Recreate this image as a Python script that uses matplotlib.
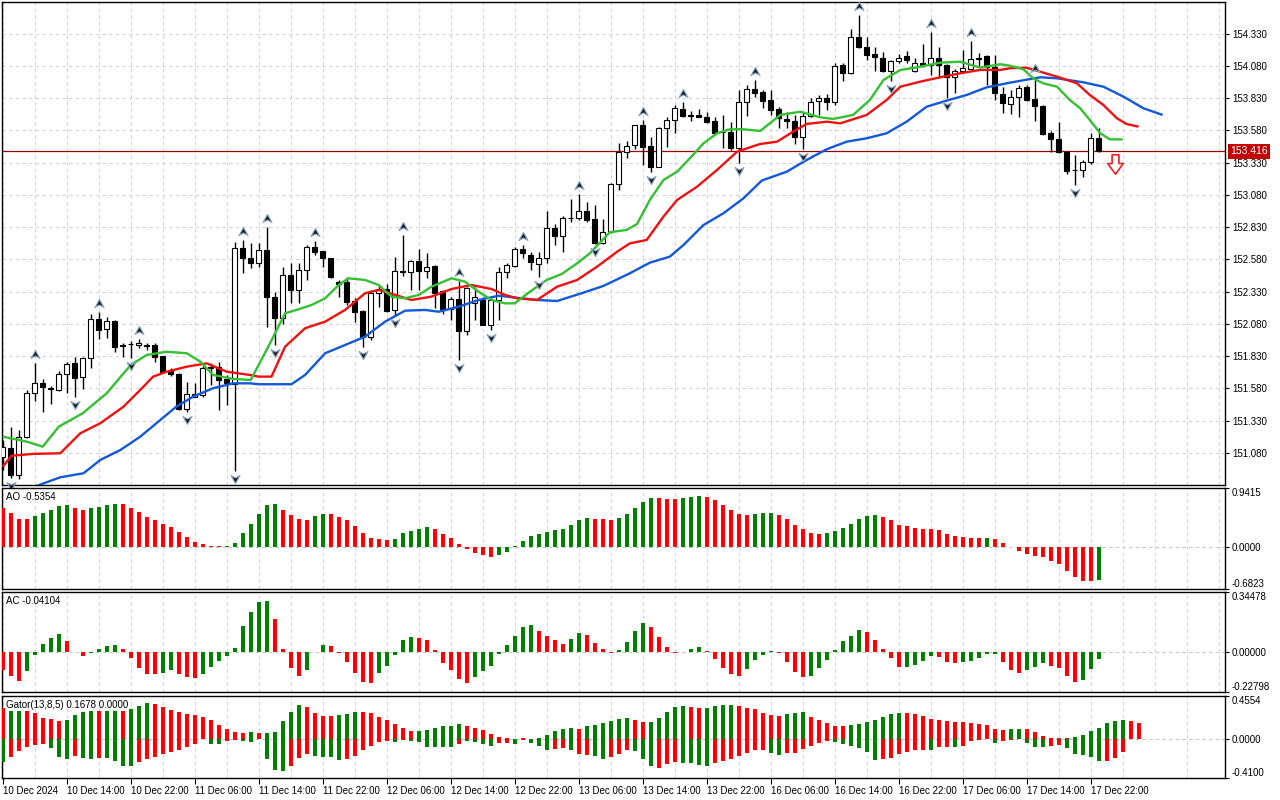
import matplotlib
matplotlib.use("Agg")
import matplotlib.pyplot as plt
import matplotlib.transforms as mtransforms
from matplotlib.path import Path
import numpy as np

plt.rcParams['font.family'] = ['Liberation Sans', 'DejaVu Sans']

# ---------------- data (hourly bars, 10 Dec 06:00 -> 17 Dec 23:00) ----------------
opens = [151.050, 151.120, 150.909, 151.206, 151.542, 151.619, 151.581, 151.568, 151.689, 151.774,
         151.666, 151.813, 152.115, 152.038, 152.102, 151.914, 151.924, 151.914, 151.906, 151.914,
         151.831, 151.723, 151.689, 151.423, 151.516, 151.529, 151.736, 151.743, 151.650, 151.614,
         152.666, 152.588, 152.549, 152.653, 152.291, 152.128, 152.459, 152.343, 152.498, 152.673,
         152.645, 152.593, 152.402, 152.405, 152.257, 152.182, 151.976, 152.317, 152.348, 152.188,
         152.490, 152.480, 152.567, 152.490, 152.529, 152.335, 152.193, 152.270, 152.025, 152.239,
         152.265, 152.071, 152.265, 152.480, 152.531, 152.660, 152.614, 152.542, 152.588, 152.821,
         152.763, 152.898, 152.898, 152.955, 152.890, 152.704, 152.790, 153.162, 153.412, 153.466,
         153.621, 153.456, 153.298, 153.596, 153.660, 153.745, 153.699, 153.699, 153.681, 153.652,
         153.569, 153.569, 153.445, 153.802, 153.898, 153.877, 153.815, 153.745, 153.665, 153.652,
         153.526, 153.693, 153.807, 153.828, 153.800, 154.086, 154.022, 154.301, 154.228, 154.172,
         154.138, 154.042, 154.117, 154.156, 154.040, 154.104, 154.086, 154.138, 154.086, 153.991,
         154.042, 154.053, 154.138, 154.156, 154.073, 153.862, 153.784, 153.836, 153.913, 153.820,
         153.771, 153.557, 153.513, 153.414, 153.273, 153.273, 153.337, 153.518]
highs = [151.180, 151.283, 151.258, 151.568, 151.779, 151.650, 151.601, 151.715, 151.787, 151.821,
         151.826, 152.154, 152.170, 152.131, 152.110, 151.934, 151.947, 151.960, 151.929, 151.929,
         151.831, 151.736, 151.702, 151.632, 151.624, 151.754, 151.779, 151.787, 151.684, 152.717,
         152.730, 152.704, 152.709, 152.833, 152.329, 152.523, 152.549, 152.549, 152.691, 152.725,
         152.645, 152.593, 152.420, 152.441, 152.278, 152.188, 152.343, 152.381, 152.389, 152.601,
         152.769, 152.575, 152.658, 152.632, 152.536, 152.343, 152.291, 152.412, 152.368, 152.368,
         152.291, 152.278, 152.523, 152.554, 152.678, 152.691, 152.639, 152.639, 152.957, 152.854,
         152.918, 153.045, 153.087, 153.027, 153.001, 152.890, 153.169, 153.484, 153.500, 153.621,
         153.660, 153.531, 153.608, 153.686, 153.776, 153.802, 153.732, 153.745, 153.724, 153.686,
         153.699, 153.647, 153.893, 153.931, 153.970, 153.893, 153.893, 153.763, 153.724, 153.699,
         153.712, 153.828, 153.854, 153.862, 154.099, 154.099, 154.363, 154.474, 154.306, 154.228,
         154.189, 154.125, 154.172, 154.197, 154.138, 154.249, 154.344, 154.228, 154.092, 154.053,
         154.203, 154.275, 154.177, 154.164, 154.164, 153.918, 153.893, 153.931, 153.931, 153.991,
         153.776, 153.577, 153.647, 153.420, 153.389, 153.350, 153.557, 153.596]
lows = [150.948, 150.883, 150.878, 151.193, 151.485, 151.399, 151.457, 151.562, 151.542, 151.516,
        151.573, 151.736, 151.960, 151.973, 151.864, 151.826, 151.813, 151.891, 151.878, 151.787,
        151.697, 151.678, 151.413, 151.399, 151.516, 151.516, 151.606, 151.413, 151.451, 150.940,
        152.472, 152.511, 152.523, 152.058, 151.916, 152.077, 152.239, 152.239, 152.420, 152.614,
        152.523, 152.433, 152.291, 152.226, 152.097, 151.903, 151.955, 152.213, 152.174, 152.149,
        152.451, 152.343, 152.343, 152.438, 152.201, 152.157, 152.110, 151.800, 151.994, 152.110,
        152.071, 152.033, 152.110, 152.433, 152.523, 152.593, 152.498, 152.446, 152.549, 152.691,
        152.639, 152.872, 152.885, 152.872, 152.699, 152.699, 152.782, 153.118, 153.368, 153.435,
        153.311, 153.259, 153.298, 153.453, 153.557, 153.686, 153.655, 153.681, 153.634, 153.544,
        153.441, 153.428, 153.324, 153.693, 153.841, 153.751, 153.699, 153.596, 153.596, 153.474,
        153.435, 153.686, 153.699, 153.738, 153.776, 153.962, 154.017, 154.216, 154.125, 154.042,
        154.034, 153.965, 154.099, 154.099, 154.034, 154.073, 154.009, 153.983, 153.828, 153.867,
        154.034, 154.048, 154.073, 153.931, 153.815, 153.712, 153.707, 153.681, 153.810, 153.652,
        153.544, 153.414, 153.407, 153.242, 153.156, 153.221, 153.319, 153.414]
closes = [151.128, 150.909, 151.206, 151.542, 151.619, 151.588, 151.573, 151.689, 151.769, 151.663,
          151.813, 152.115, 152.033, 152.100, 151.903, 151.911, 151.922, 151.934, 151.919, 151.821,
          151.709, 151.689, 151.423, 151.537, 151.534, 151.736, 151.748, 151.645, 151.619, 152.666,
          152.588, 152.549, 152.653, 152.291, 152.128, 152.459, 152.343, 152.498, 152.673, 152.639,
          152.588, 152.446, 152.389, 152.252, 152.174, 151.976, 152.317, 152.350, 152.182, 152.490,
          152.480, 152.567, 152.490, 152.523, 152.317, 152.193, 152.270, 152.025, 152.360, 152.291,
          152.071, 152.265, 152.482, 152.536, 152.660, 152.627, 152.562, 152.588, 152.821, 152.763,
          152.898, 152.900, 152.955, 152.885, 152.704, 152.790, 153.162, 153.412, 153.461, 153.621,
          153.453, 153.298, 153.596, 153.660, 153.751, 153.691, 153.691, 153.681, 153.647, 153.562,
          153.565, 153.445, 153.802, 153.898, 153.872, 153.810, 153.738, 153.673, 153.655, 153.526,
          153.693, 153.797, 153.828, 153.800, 154.079, 154.022, 154.301, 154.228, 154.164, 154.146,
          154.042, 154.117, 154.138, 154.125, 154.104, 154.086, 154.138, 154.086, 153.991, 154.042,
          154.061, 154.130, 154.130, 154.073, 153.867, 153.789, 153.836, 153.906, 153.815, 153.771,
          153.552, 153.510, 153.414, 153.267, 153.269, 153.337, 153.518, 153.416]

# Alligator lines (bar position, price)
jaw_x = [0, 3, 4.9, 7.2, 10.1, 12.2, 14.7, 17.2, 19.7, 21.7, 23.8, 26.3, 28.8, 30.9, 32, 36.1, 37.8,
         40.3, 42.8, 45.3, 47.8, 50.3, 52.8, 54.5, 57, 59.5, 62, 66.8, 69.3, 72.6, 75.1, 78.4, 80.9,
         83.4, 85.1, 87.6, 90.1, 92.6, 94.9, 98, 100.5, 103, 105.5, 108, 110.5, 113, 115.5, 118,
         120.5, 123, 125.9, 129.7, 131.8, 135.1, 137.6, 140.1, 142.6, 145]
jaw_y = [150.746, 150.793, 150.839, 150.891, 150.922, 151.025, 151.102, 151.206, 151.335, 151.438,
         151.516, 151.581, 151.619, 151.619, 151.612, 151.612, 151.684, 151.852, 151.916, 151.981,
         152.097, 152.182, 152.188, 152.174, 152.213, 152.265, 152.298, 152.265, 152.257, 152.322,
         152.374, 152.472, 152.554, 152.601, 152.691, 152.846, 152.937, 153.053, 153.191, 153.259,
         153.350, 153.433, 153.492, 153.518, 153.557, 153.647, 153.763, 153.810, 153.854, 153.913,
         153.949, 153.991, 153.983, 153.952, 153.918, 153.841, 153.751, 153.699]
teeth_x = [0, 1.1, 3.8, 7.2, 9.7, 12.2, 15.1, 17.2, 18.8, 20.5, 23, 25.5, 28, 30.9, 32, 33.6, 35.3,
           37.8, 40.3, 42.8, 45.3, 47, 49.5, 51.1, 53.6, 56.1, 58.6, 61.1, 62.8, 64.3, 66.8, 69.3,
           71.8, 74.3, 76.8, 78.4, 80.5, 82.6, 84.3, 86.8, 89.3, 91.8, 93.4, 94.7, 96.8, 98.8, 100.5,
           103, 104.7, 108, 110.5, 112.2, 114.7, 117.2, 119.7, 122.2, 124.7, 125.9, 128, 129.7,
           131.8, 134.3, 135.9, 137.6, 139.3, 140.5, 142]
teeth_y = [150.973, 151.058, 151.072, 151.077, 151.232, 151.310, 151.438, 151.568, 151.671, 151.709,
           151.748, 151.774, 151.709, 151.684, 151.671, 151.671, 151.903, 152.046, 152.097, 152.188,
           152.317, 152.343, 152.296, 152.265, 152.291, 152.350, 152.381, 152.350, 152.304, 152.278,
           152.265, 152.368, 152.420, 152.523, 152.639, 152.704, 152.730, 152.911, 153.040, 153.143,
           153.273, 153.414, 153.448, 153.474, 153.492, 153.569, 153.629, 153.647, 153.634, 153.699,
           153.815, 153.918, 153.957, 153.991, 154.022, 154.048, 154.048, 154.061, 154.065, 154.034,
           153.996, 153.944, 153.854, 153.776, 153.673, 153.629, 153.608]
lips_x = [0, 3, 5, 7, 10, 13, 16, 18, 20.5, 23, 24.7, 26.3, 28.8, 31, 33.2, 35.3, 37, 38.6, 40.3, 42,
          43.2, 45.3, 47, 48.6, 50.3, 52, 53.6, 56.1, 57.8, 59.5, 61.1, 62.8, 64, 65.9, 68, 69.9,
          71.8, 73.4, 75.9, 78, 79.3, 80.9, 82.6, 84.3, 85.9, 87.6, 89.3, 90.9, 92.6, 94.7, 97.2,
          99.7, 102.2, 103.8, 106.3, 108.4, 110.1, 112.2, 114.7, 117.2, 119.7, 122.2, 124.7, 125.9,
          127.6, 128.8, 130.1, 131.8, 133.4, 134.7, 135.9, 137.2, 138.4, 140]
lips_y = [151.206, 151.167, 151.128, 151.283, 151.387, 151.542, 151.761, 151.839, 151.864, 151.852,
          151.787, 151.684, 151.653, 151.645, 151.903, 152.162, 152.193, 152.226, 152.278, 152.381,
          152.433, 152.420, 152.381, 152.291, 152.278, 152.304, 152.368, 152.433, 152.407, 152.329,
          152.265, 152.239, 152.239, 152.329, 152.420, 152.467, 152.549, 152.627, 152.790, 152.808,
          152.854, 153.040, 153.195, 153.259, 153.363, 153.479, 153.557, 153.588, 153.588, 153.575,
          153.699, 153.724, 153.681, 153.668, 153.699, 153.815, 153.970, 154.047, 154.073, 154.104,
          154.112, 154.066, 154.092, 154.081, 154.053, 153.983, 153.944, 153.918, 153.815, 153.751,
          153.660, 153.557, 153.510, 153.510]

fractal_up = [4, 12, 17, 30, 33, 39, 50, 57, 65, 72, 80, 85, 94, 107, 116, 121, 129]
fractal_down = [1, 9, 16, 23, 29, 34, 45, 49, 57, 61, 67, 74, 81, 92, 100, 111, 118, 134]

last_price = 153.416
signal_bar, signal_price = 139, 153.32

ao_vals = [0.622, 0.547, 0.450, 0.445, 0.498, 0.547, 0.595, 0.659, 0.665, 0.627,
           0.595, 0.627, 0.643, 0.675, 0.691, 0.686, 0.627, 0.563, 0.482, 0.434,
           0.370, 0.322, 0.241, 0.161, 0.080, 0.048, 0.016, 0.013, 0.016, 0.064,
           0.225, 0.370, 0.531, 0.675, 0.691, 0.595, 0.515, 0.450, 0.434, 0.498,
           0.531, 0.525, 0.482, 0.434, 0.338, 0.225, 0.145, 0.129, 0.113, 0.129,
           0.225, 0.257, 0.289, 0.322, 0.289, 0.209, 0.145, 0.048, -0.032, -0.096,
           -0.129, -0.161, -0.129, -0.080, 0.005, 0.096, 0.177, 0.209, 0.241, 0.273,
           0.289, 0.354, 0.434, 0.466, 0.450, 0.448, 0.434, 0.466, 0.531, 0.627,
           0.724, 0.788, 0.785, 0.772, 0.769, 0.788, 0.804, 0.820, 0.804, 0.756,
           0.675, 0.595, 0.531, 0.515, 0.531, 0.533, 0.536, 0.515, 0.450, 0.354,
           0.289, 0.225, 0.209, 0.212, 0.257, 0.306, 0.370, 0.450, 0.498, 0.501,
           0.482, 0.434, 0.354, 0.338, 0.306, 0.289, 0.287, 0.273, 0.209, 0.177,
           0.161, 0.145, 0.139, 0.145, 0.129, 0.064, -0.005, -0.075, -0.113, -0.145,
           -0.161, -0.225, -0.273, -0.386, -0.482, -0.547, -0.552, -0.5354]
ao_colors = ("RRRRGGGGGR" "RGGGGRRRRR" "RRRRRRRRGG" "GGGGGRRRRG" "GRRRRRRRRG"
             "GGGGRRRRRR" "RRGGGGGGGG" "GGGGRRRGGG" "GGRRRGGGRR" "RRRRGGGRRR"
             "RRRGGGGGGG" "RRRRRRRRRR" "RRRGRRRRRR" "RRRRRRRG")

ac_vals = [-0.0993, -0.1374, -0.1661, -0.1088, -0.0172, 0.0496, 0.0840, 0.1069, 0.0668, 0.0038,
           -0.0229, -0.0057, 0.0210, 0.0382, 0.0439, 0.0210, -0.0344, -0.0916, -0.1260, -0.1265,
           -0.1203, -0.1031, -0.1260, -0.1432, -0.1489, -0.1260, -0.0859, -0.0515, -0.0229, 0.0267,
           0.1527, 0.2329, 0.2902, 0.2959, 0.1928, 0.0210, -0.0916, -0.1374, -0.1031, 0.0038,
           0.0439, 0.0382, -0.0057, -0.0573, -0.1203, -0.1718, -0.1775, -0.1203, -0.0802, -0.0172,
           0.0725, 0.0897, 0.0840, 0.0725, 0.0153, -0.0630, -0.1031, -0.1546, -0.1775, -0.1432,
           -0.1088, -0.0802, -0.0115, 0.0439, 0.0955, 0.1470, 0.1584, 0.1241, 0.0955, 0.0725,
           0.0496, 0.0783, 0.1126, 0.1012, 0.0554, 0.0210, -0.0019, 0.0153, 0.0611, 0.1241,
           0.1699, 0.1470, 0.0897, 0.0325, -0.0038, 0.0038, 0.0210, 0.0325, 0.0095, -0.0401,
           -0.0916, -0.1260, -0.1374, -0.0974, -0.0458, -0.0172, 0.0095, -0.0038, -0.0573, -0.1145,
           -0.1432, -0.1374, -0.0916, -0.0458, 0.0115, 0.0668, 0.0955, 0.1298, 0.1184, 0.0725,
           0.0210, -0.0344, -0.0859, -0.0855, -0.0745, -0.0515, -0.0229, -0.0286, -0.0573, -0.0630,
           -0.0573, -0.0515, -0.0344, -0.0115, -0.0076, -0.0573, -0.1031, -0.1203, -0.1031, -0.0859,
           -0.0630, -0.0802, -0.0916, -0.1374, -0.1718, -0.1604, -0.0974, -0.04104]
ac_colors = ("RRRGGGGGRR" "RGGGGRRRRR" "GGRRRGGGGG" "GGGGRRRRGG" "GRRRRRRGGG"
             "GGRRRRRRRG" "GGGGGGGRRR" "RGGRRRRGGG" "GRRRRGGGRR" "RRRGGGGRRR"
             "RGGGGGGGRR" "RRRGGGGRRR" "GGGGGRRRGG" "GRRRRGGG")

gator_up = [0.333, 0.299, 0.300, 0.298, 0.272, 0.224, 0.211, 0.187, 0.207, 0.258,
            0.289, 0.299, 0.297, 0.300, 0.301, 0.299, 0.323, 0.350, 0.377, 0.367,
            0.343, 0.309, 0.282, 0.265, 0.255, 0.231, 0.197, 0.146, 0.105, 0.075,
            0.061, 0.075, 0.068, 0.070, 0.075, 0.187, 0.289, 0.357, 0.340, 0.275,
            0.245, 0.241, 0.258, 0.265, 0.286, 0.284, 0.272, 0.238, 0.204, 0.156,
            0.116, 0.082, 0.083, 0.095, 0.119, 0.143, 0.144, 0.156, 0.143, 0.122,
            0.095, 0.058, 0.020, 0.007, 0.002, 0.007, 0.002, 0.014, 0.044, 0.082,
            0.112, 0.119, 0.109, 0.136, 0.150, 0.170, 0.190, 0.211, 0.221, 0.201,
            0.184, 0.185, 0.221, 0.286, 0.340, 0.347, 0.340, 0.330, 0.331, 0.347,
            0.364, 0.365, 0.347, 0.330, 0.313, 0.279, 0.252, 0.241, 0.262, 0.275,
            0.286, 0.235, 0.201, 0.173, 0.143, 0.142, 0.150, 0.156, 0.184, 0.204,
            0.235, 0.269, 0.279, 0.278, 0.262, 0.241, 0.211, 0.201, 0.187, 0.184,
            0.183, 0.173, 0.160, 0.146, 0.105, 0.099, 0.109, 0.110, 0.102, 0.071,
            0.037, 0.010, 0.017, 0.007, 0.020, 0.041, 0.082, 0.122, 0.167, 0.194,
            0.204, 0.190, 0.1678]
gator_up_colors = ("RGGRRRRRGG" "GGRGGRGGGR" "RRRRRRRRRR" "RGRGGGGGRR" "RRGGGRRRRR"
                   "RRGGGGGGRR" "RRRRRRRGGG" "GGRGGGGGGR" "RGGGGGRRGG" "GGRRRRRRGG"
                   "GRRRRRGGGG" "GGGRRRRRRR" "RRRRRRGGRR" "RRGRGGGGGG" "GRR")
gator_dn = [-0.245, -0.187, -0.126, -0.085, -0.061, -0.048, -0.095, -0.190, -0.211, -0.177,
            -0.197, -0.211, -0.197, -0.201, -0.231, -0.279, -0.280, -0.245, -0.211, -0.184,
            -0.156, -0.136, -0.116, -0.082, -0.048, -0.003, -0.048, -0.049, -0.020, -0.014,
            -0.024, -0.031, -0.003, -0.211, -0.330, -0.331, -0.286, -0.197, -0.156, -0.177,
            -0.190, -0.191, -0.218, -0.211, -0.177, -0.119, -0.075, -0.034, -0.017, -0.034,
            -0.014, -0.020, -0.027, -0.085, -0.082, -0.083, -0.085, -0.054, -0.020, -0.027,
            -0.051, -0.075, -0.044, -0.044, -0.051, -0.010, -0.041, -0.075, -0.116, -0.105,
            -0.095, -0.116, -0.156, -0.163, -0.173, -0.211, -0.190, -0.156, -0.119, -0.129,
            -0.214, -0.282, -0.306, -0.258, -0.241, -0.248, -0.255, -0.275, -0.282, -0.255,
            -0.231, -0.207, -0.180, -0.146, -0.119, -0.118, -0.146, -0.170, -0.146, -0.145,
            -0.105, -0.068, -0.037, -0.020, -0.034, -0.051, -0.068, -0.095, -0.139, -0.224,
            -0.214, -0.197, -0.156, -0.139, -0.112, -0.119, -0.112, -0.085, -0.084, -0.086,
            -0.068, -0.017, -0.010, -0.003, -0.044, -0.017, -0.014, -0.003, -0.044, -0.078,
            -0.085, -0.068, -0.061, -0.095, -0.156, -0.170, -0.190, -0.231, -0.230, -0.201,
            -0.133]
gator_dn_colors = ("GRRRRRGGGR" "GGRGGGGRRR" "RRRRRRGGRR" "GGRGGGRRRG" "GGGRRRRRRG"
                   "RGGGGGGRGG" "GGRRGRGGGR" "RGRRGGRRRG" "GGRRRGGGGR" "RRRRRRGGRR"
                   "RRRRGGGGGG" "RRRRRRGRRG" "RRRRGRRRGG" "GRRGGGGGRR" "R")

time_labels = ["10 Dec 2024", "10 Dec 14:00", "10 Dec 22:00", "11 Dec 06:00", "11 Dec 14:00",
               "11 Dec 22:00", "12 Dec 06:00", "12 Dec 14:00", "12 Dec 22:00", "13 Dec 06:00",
               "13 Dec 14:00", "13 Dec 22:00", "16 Dec 06:00", "16 Dec 14:00", "16 Dec 22:00",
               "17 Dec 06:00", "17 Dec 14:00", "17 Dec 22:00"]
price_ticks = [151.08, 151.33, 151.58, 151.83, 152.08, 152.33, 152.58, 152.83,
               153.08, 153.33, 153.58, 153.83, 154.08, 154.33]

# ---------------- layout ----------------
W, H = 1280, 800
fig = plt.figure(figsize=(12.8, 8), dpi=100)
fig.patch.set_facecolor('white')


def panel(top, bottom, left=2, right=1225):
    return fig.add_axes([left / W, 1 - bottom / H, (right - left) / W, (bottom - top) / H])


ax = panel(2, 485)
ax_ao = panel(488, 589)
ax_ac = panel(592, 692)
ax_g = panel(696, 778)
axes = [ax, ax_ao, ax_ac, ax_g]

GREEN, RED = '#008000', '#ff0000'
GRID = '#d4d4d4'
XMAX = 152.8
n = len(opens)
idx = np.arange(n)

for a in axes:
    a.set_xlim(-0.09, XMAX)
    a.set_xticks(np.arange(0, 153, 8))
    a.set_xticks(np.arange(4, 153, 8), minor=True)
    a.grid(True, which='both', axis='x', color=GRID, linestyle=(0, (3, 3)), linewidth=0.8)
    a.set_axisbelow(True)
    a.yaxis.tick_right()
    a.tick_params(axis='y', which='both', labelsize=7, length=3, width=0.8, pad=2,
                  direction='out', colors='black')
    a.tick_params(axis='x', which='both', length=0, labelbottom=False)
    for s in a.spines.values():
        s.set_color('black')
        s.set_linewidth(1.0)

# ---------------- main price panel ----------------
ax.set_ylim(150.831, 154.5745)
ax.set_yticks(price_ticks)
ax.set_yticklabels([f"{p:.3f}" for p in price_ticks])
ax.grid(True, axis='y', color=GRID, linestyle=(0, (3, 3)), linewidth=0.8)

o = np.array(opens); h = np.array(highs); l = np.array(lows); c = np.array(closes)
bull = c >= o
ax.vlines(idx, l, h, color='black', linewidth=1.0, zorder=3)
body_bot = np.minimum(o, c)
body_h = np.maximum(np.abs(c - o), 0.003)
ax.bar(idx, body_h, bottom=body_bot, width=0.62,
       color=np.where(bull, 'white', 'black'), edgecolor='black', linewidth=0.8, zorder=4)

ax.axhline(last_price, color='#9a0000', linewidth=0.9, zorder=2)

ax.plot(jaw_x, jaw_y, color='#1258d8', linewidth=1.7, zorder=5, solid_capstyle='butt')
ax.plot(teeth_x, teeth_y, color='#f01010', linewidth=1.7, zorder=5, solid_capstyle='butt')
ax.plot(lips_x, lips_y, color='#33c033', linewidth=1.7, zorder=5, solid_capstyle='butt')

up_path = Path([(0, 0.8), (0.9, -0.8), (0, -0.3), (-0.9, -0.8), (0, 0.8)],
               [Path.MOVETO, Path.LINETO, Path.LINETO, Path.LINETO, Path.CLOSEPOLY])
dn_path = Path([(0, -0.8), (0.9, 0.8), (0, 0.3), (-0.9, 0.8), (0, -0.8)],
               [Path.MOVETO, Path.LINETO, Path.LINETO, Path.LINETO, Path.CLOSEPOLY])
tr_up = mtransforms.offset_copy(ax.transData, fig=fig, x=0, y=9, units='dots')
tr_dn = mtransforms.offset_copy(ax.transData, fig=fig, x=0, y=-8, units='dots')
ax.plot(fractal_up, [highs[i] for i in fractal_up], linestyle='none', marker=up_path,
        markersize=6.5, markerfacecolor='#1a1a1a', markeredgecolor='#8aa6c8',
        markeredgewidth=0.8, transform=tr_up, zorder=6, clip_on=False)
ax.plot(fractal_down, [lows[i] for i in fractal_down], linestyle='none', marker=dn_path,
        markersize=6.5, markerfacecolor='#1a1a1a', markeredgecolor='#8aa6c8',
        markeredgewidth=0.8, transform=tr_dn, zorder=6, clip_on=False)

sig_path = Path([(-0.35, 1), (0.35, 1), (0.35, 0.1), (0.8, 0.1), (0, -1), (-0.8, 0.1),
                 (-0.35, 0.1), (-0.35, 1)],
                [Path.MOVETO] + [Path.LINETO] * 6 + [Path.CLOSEPOLY])
ax.plot([signal_bar], [signal_price], linestyle='none', marker=sig_path, markersize=14,
        markerfacecolor='white', markeredgecolor='#f02020', markeredgewidth=1.2, zorder=6)

blend = mtransforms.blended_transform_factory(ax.transAxes, ax.transData)
ax.annotate(f"{last_price:.3f}", xy=(1.0, last_price), xycoords=blend,
            xytext=(3.5, 0), textcoords='offset points', ha='left', va='center',
            fontsize=7.5, color='white',
            bbox=dict(boxstyle='square,pad=0.22', facecolor='#c40000', edgecolor='none'),
            annotation_clip=False, zorder=10)

# ---------------- histogram helpers ----------------
def cols(s):
    return [GREEN if ch == 'G' else RED for ch in s]


def zero_line(a):
    a.axhline(0, color='#c8c8c8', linewidth=0.8, linestyle=(0, (3, 3)), zorder=1)


def edge_labels(a):
    labs = a.get_yticklabels()
    labs[0].set_va('bottom')
    labs[-1].set_va('top')


# AO
ax_ao.set_ylim(-0.6823, 0.9415)
zero_line(ax_ao)
ax_ao.bar(np.arange(len(ao_vals)), ao_vals, width=0.5, color=cols(ao_colors), zorder=3)
ax_ao.set_yticks([-0.6823, 0.0, 0.9415])
ax_ao.set_yticklabels(["-0.6823", "0.0000", "0.9415"])
edge_labels(ax_ao)
ax_ao.text(0.0035, 0.965, f"AO {ao_vals[-1]:.4f}", transform=ax_ao.transAxes,
           fontsize=7, va='top', ha='left')

# AC
ax_ac.set_ylim(-0.22798, 0.34478)
zero_line(ax_ac)
ax_ac.bar(np.arange(len(ac_vals)), ac_vals, width=0.5, color=cols(ac_colors), zorder=3)
ax_ac.set_yticks([-0.22798, 0.0, 0.34478])
ax_ac.set_yticklabels(["-0.22798", "0.00000", "0.34478"])
edge_labels(ax_ac)
ax_ac.text(0.0035, 0.965, f"AC {ac_vals[-1]:.5f}", transform=ax_ac.transAxes,
           fontsize=7, va='top', ha='left')

# Gator
ax_g.set_ylim(-0.4100, 0.4554)
zero_line(ax_g)
ax_g.bar(np.arange(len(gator_up)), gator_up, width=0.5, color=cols(gator_up_colors), zorder=3)
ax_g.bar(np.arange(len(gator_dn)), gator_dn, width=0.5, color=cols(gator_dn_colors), zorder=3)
ax_g.set_yticks([-0.4100, 0.0, 0.4554])
ax_g.set_yticklabels(["-0.4100", "0.0000", "0.4554"])
edge_labels(ax_g)
ax_g.text(0.0035, 0.955, f"Gator(13,8,5) {gator_up[-1]:.4f} 0.0000", transform=ax_g.transAxes,
          fontsize=7, va='top', ha='left')

# time axis on bottom panel
ax_g.set_xticks(np.arange(0, 8 * len(time_labels), 8))
ax_g.set_xticklabels(time_labels)
ax_g.tick_params(axis='x', which='major', length=4, width=0.8, direction='out',
                 labelbottom=True, labelsize=7, pad=2)
for lbl in ax_g.get_xticklabels():
    lbl.set_ha('left')

fig.savefig("out.png", dpi=100, facecolor='white')
